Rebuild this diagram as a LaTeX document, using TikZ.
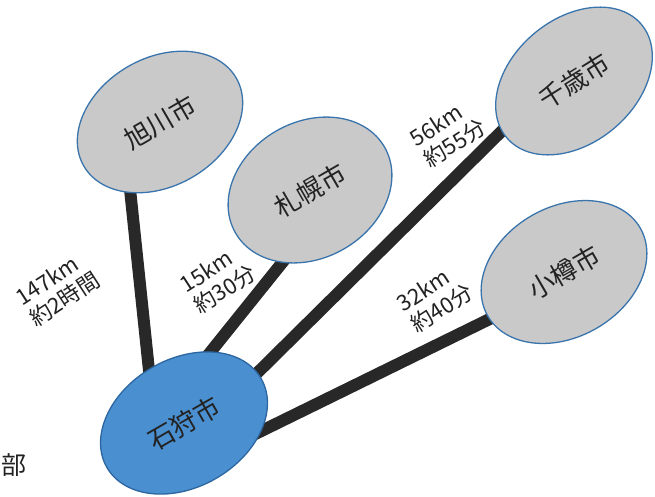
\documentclass[tikz,border=0pt]{standalone}
\usepackage{fontspec}
\setmainfont{Noto Sans CJK JP}
\usetikzlibrary{shapes.geometric,backgrounds}
\definecolor{cityfill}{RGB}{201,201,201}
\definecolor{cityedge}{RGB}{58,116,172}
\definecolor{bluefill}{RGB}{74,143,208}
\definecolor{blueedge}{RGB}{44,102,160}
\definecolor{linkcol}{RGB}{40,40,40}
\definecolor{textcol}{RGB}{34,34,34}
\tikzset{
  city/.style={ellipse, draw=cityedge, fill=cityfill, line width=1.3pt,
    inner sep=0pt, text=textcol, font=\fontsize{26}{30}\selectfont},
  hub/.style={city, fill=bluefill, draw=blueedge},
  link/.style={draw=linkcol, line width=12pt},
  dist/.style={align=left, rotate=33, inner sep=0pt, text=textcol,
    font=\fontsize{22}{25}\selectfont}
}
\begin{document}
\begin{tikzpicture}[x=1pt,y=-1pt]
\useasboundingbox (0,0) rectangle (655,496);
\node[city, minimum width=176pt, minimum height=128pt, rotate=30] (ash) at (160,122) {旭川市};
\node[city, minimum width=172pt, minimum height=136pt, rotate=30] (sap) at (310,190) {札幌市};
\node[city, minimum width=176pt, minimum height=124pt, rotate=40] (chi) at (574,81) {\rotatebox{-8}{千歳市}};
\node[city, minimum width=176pt, minimum height=130pt, rotate=30] (ota) at (564,272) {小樽市};
\node[hub, minimum width=178pt, minimum height=128pt, rotate=30] (ish) at (184,423) {石狩市};
\begin{pgfonlayer}{background}
\path[link] ([shift={(-32,48)}]ash.center) -- ([shift={(-34,-43)}]ish.center);
\path[link] ([shift={(-12,53)}]sap.center) -- ([shift={(16,-58)}]ish.center);
\path[link] ([shift={(-54,32)}]chi.center) -- ([shift={(56,-33)}]ish.center);
\path[link] ([shift={(-56,38)}]ota.center) -- ([shift={(59,17)}]ish.center);
\end{pgfonlayer}
\node[dist] (l1) at (58,289) {147km\\約2時間};
\node[dist] (l2) at (218,279) {15km\\約30分};
\node[dist] (l3) at (448,133) {56km\\約55分};
\node[dist] (l4) at (435,298) {32km\\約40分};
\node[text=textcol, font=\fontsize{25}{28}\selectfont, inner sep=0pt] (bu) at (14,465) {部};
\end{tikzpicture}
\end{document}
